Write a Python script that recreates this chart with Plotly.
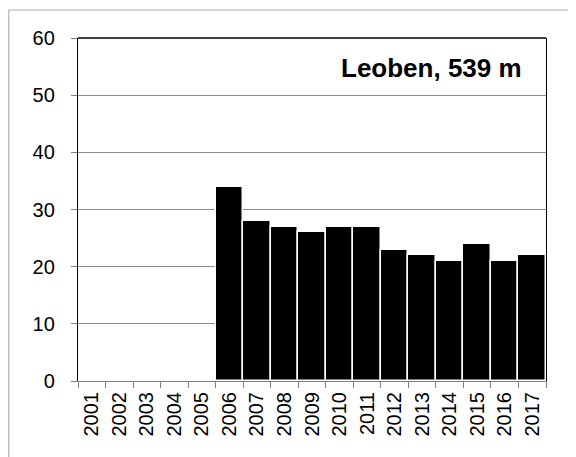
import plotly.graph_objects as go

years = [str(y) for y in range(2001, 2018)]
values = [None, None, None, None, None, 34, 28, 27, 26, 27, 27, 23, 22, 21, 24, 21, 22]
y_ticks = [0, 10, 20, 30, 40, 50, 60]
title_text = "Leoben, 539 m"

W, H = 576, 457
OFF = 8  # page body margin
L, R, T, B = 78 - OFF, 546 - OFF, 38 - OFF, 381 - OFF

fig = go.Figure()
fig.add_trace(go.Bar(
    x=years, y=values,
    marker=dict(color="black", line=dict(color="white", width=1.5)),
    showlegend=False,
))

def px_x(p):
    return (p - OFF - L) / (R - L)

def px_y(p):
    return (B - (p - OFF)) / (B - T)

font = dict(family="Liberation Sans, Arial, sans-serif", size=20, color="black")

fig.update_layout(
    width=W, height=H,
    margin=dict(l=L, r=W - R, t=T, b=H - B, pad=0),
    paper_bgcolor="white", plot_bgcolor="white",
    bargap=0,
    font=font,
    xaxis=dict(
        type="category", tickson="boundaries", ticks="outside", ticklen=6,
        tickcolor="#808080", tickangle=-90, showline=True, linecolor="#808080",
        linewidth=1, showgrid=False, tickfont=font, ticklabelstandoff=2,
    ),
    yaxis=dict(
        range=[0, 60], tickvals=y_ticks, ticks="outside", ticklen=6,
        tickcolor="#808080", showline=True, linecolor="black", linewidth=1.3,
        mirror=True, showgrid=True, gridcolor="#8c8c8c", gridwidth=1,
        zeroline=False, tickfont=font, ticklabelstandoff=12,
    ),
    shapes=[
        dict(type="line", xref="paper", yref="paper", x0=0, x1=1, y0=1, y1=1,
             line=dict(color="black", width=1.3)),
        dict(type="rect", xref="paper", yref="paper",
             x0=px_x(8.8), x1=px_x(600), y0=px_y(10), y1=px_y(480),
             line=dict(color="#b0b0b0", width=1.2), fillcolor="rgba(0,0,0,0)",
             layer="below"),
    ],
    annotations=[
        dict(text="<b>" + title_text + "</b>", xref="paper", yref="paper",
             x=px_x(524), y=px_y(68), xanchor="right", yanchor="middle",
             showarrow=False, font=dict(family="Liberation Sans, Arial, sans-serif",
                                         size=26, color="black")),
    ],
)

fig.write_html("out.html")
